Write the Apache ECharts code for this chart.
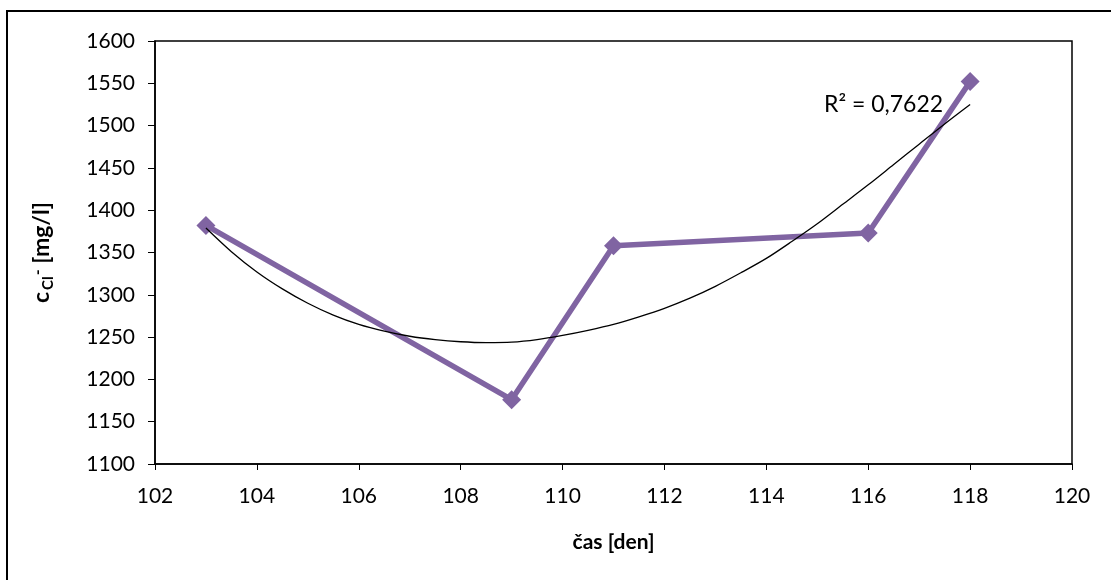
<!DOCTYPE html>
<html>
<head>
<meta charset="utf-8">
<script src="https://cdn.jsdelivr.net/npm/echarts@6/dist/echarts.min.js"></script>
<style>html,body{margin:0;padding:0;background:#fff}#c{width:1111px;height:580px}</style>
</head>
<body>
<div id="c"></div>
<script>
// Data
const days = [103, 109, 111, 116, 118];
const chloride = [1382, 1176, 1358, 1373, 1552];
// Trendline (polynomial), values
const trendDays = [103, 103.5, 104, 104.5, 105, 105.5, 106, 106.5, 107, 107.5, 108, 108.5, 109, 109.5, 110, 110.5,
                   111, 111.5, 112, 112.5, 113, 113.5, 114, 114.5, 115, 115.5, 116, 116.5, 117, 117.5, 118];
const trendValues = [1379, 1351, 1327, 1307, 1290, 1276, 1265, 1257, 1251, 1247, 1244.5, 1243.5, 1244, 1247, 1252, 1258,
                     1265, 1274, 1284, 1296, 1310, 1326, 1343, 1363, 1384, 1407, 1430, 1454, 1478, 1502, 1525];
const xTicks = [102, 104, 106, 108, 110, 112, 114, 116, 118, 120];
const yTicks = [1100, 1150, 1200, 1250, 1300, 1350, 1400, 1450, 1500, 1550, 1600];
const r2Text = 'R² = 0,7622';

const FONT = 'Lato';
const chart = echarts.init(document.getElementById('c'), null, {renderer: 'canvas'});
chart.setOption({
  animation: false,
  backgroundColor: '#fff',
  textStyle: {fontFamily: FONT},
  grid: {left: 155, top: 41, width: 917, height: 423, show: true, borderColor: '#000', borderWidth: 1.5, backgroundColor: 'transparent'},
  graphic: [
    {type: 'rect', z: -10, shape: {x: 7, y: 11, width: 1200, height: 700}, style: {fill: 'none', stroke: '#000', lineWidth: 2}},
    {type: 'text', left: 824, top: 93, style: {text: r2Text, fontFamily: FONT, fontSize: 23, fill: '#000'}}
  ],
  xAxis: {
    type: 'value', min: xTicks[0], max: xTicks[xTicks.length - 1], interval: 2,
    name: 'čas [den]', nameLocation: 'middle', nameGap: 68,
    nameTextStyle: {fontFamily: FONT, fontSize: 21, fontWeight: 'bold', color: '#000'},
    axisLine: {lineStyle: {color: '#000', width: 1.5}},
    axisTick: {show: true, length: 6, lineStyle: {color: '#000', width: 1}},
    axisLabel: {margin: 22, fontFamily: FONT, fontSize: 21, color: '#000', formatter: v => String(v)},
    splitLine: {show: false}
  },
  yAxis: {
    type: 'value', min: yTicks[0], max: yTicks[yTicks.length - 1], interval: 50,
    name: '{c|c}{s|Cl}{p|-}{c| [mg/l]}', nameLocation: 'middle', nameRotate: 90, nameGap: 96,
    nameTextStyle: {
      color: '#000', fontFamily: FONT, fontWeight: 'bold',
      rich: {
        c: {fontSize: 23, fontWeight: 'bold', fontFamily: FONT, color: '#000', lineHeight: 34, verticalAlign: 'middle'},
        s: {fontSize: 15, fontWeight: 'bold', fontFamily: FONT, color: '#000', lineHeight: 34, verticalAlign: 'bottom', padding: [0, 0, 3, 2]},
        p: {fontSize: 16, fontWeight: 'bold', fontFamily: FONT, color: '#000', lineHeight: 34, verticalAlign: 'top', padding: [5, 0, 0, 1]}
      }
    },
    axisLine: {show: true, lineStyle: {color: '#000', width: 1.5}},
    axisTick: {show: true, length: 7, lineStyle: {color: '#000', width: 1}},
    axisLabel: {margin: 20, fontFamily: FONT, fontSize: 21, color: '#000', formatter: v => String(v)},
    splitLine: {show: false}
  },
  series: [
    {
      type: 'line', name: 'cCl', data: days.map((d, i) => [d, chloride[i]]),
      symbol: 'diamond', symbolSize: 19,
      lineStyle: {color: '#8064A2', width: 5.5},
      itemStyle: {color: '#8064A2'}, z: 2
    },
    {
      type: 'line', name: 'trend', data: trendDays.map((d, i) => [d, trendValues[i]]),
      symbol: 'none', smooth: 0.3,
      lineStyle: {color: '#000', width: 1.3}, z: 3
    }
  ]
});
</script>
</body>
</html>
